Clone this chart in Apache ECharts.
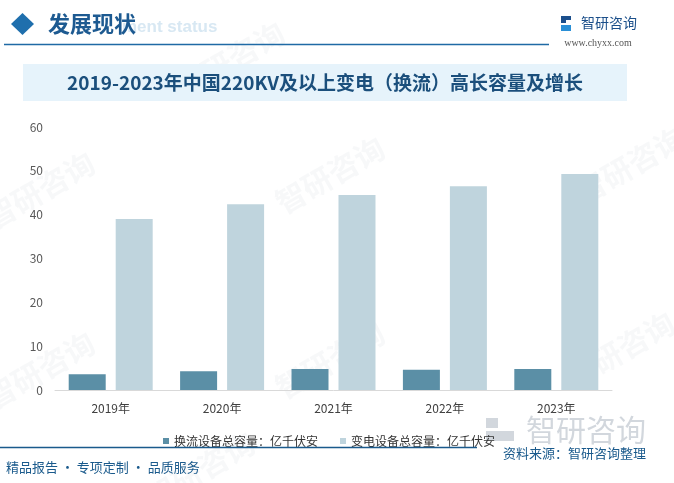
<!DOCTYPE html>
<html><head><meta charset="utf-8">
<script src="https://cdn.jsdelivr.net/npm/echarts@6/dist/echarts.min.js"></script>
<style>html,body{margin:0;padding:0;background:#fff}#c{width:674px;height:483px}</style>
</head><body><div id="c"></div>
<script>
const categories = ['2019年','2020年','2021年','2022年','2023年'];
const seriesNames = ['换流设备总容量：亿千伏安','变电设备总容量：亿千伏安'];
const converterValues = [3.6, 4.3, 4.8, 4.6, 4.8];
const substationValues = [39.0, 42.4, 44.5, 46.5, 49.3];
const yTicks = [0, 10, 20, 30, 40, 50, 60];

const chart = echarts.init(document.getElementById('c'), null, {renderer:'canvas'});
const cjk = '"Noto Sans CJK SC", "Noto Sans", sans-serif';

const wm = [];
[[40,190],[330,175],[630,165],[40,370],[330,360],[620,350],[200,470],[230,60]].forEach(p=>{
  wm.push({type:'text', x:p[0], y:p[1], rotation:Math.PI/6, z:0,
    style:{text:'智研咨询', font:'bold 30px '+cjk, fill:'rgba(200,206,214,0.15)', textAlign:'center', textVerticalAlign:'middle'}});
});

chart.setOption({
  animation:false,
  textStyle:{fontFamily:cjk},
  grid:{left:55, right:62, top:127, bottom:93},
  legend:{
    data:seriesNames, left:158, top:430, itemWidth:6, itemHeight:6, itemGap:22, icon:'rect',
    textStyle:{fontSize:12, color:'#333', fontFamily:cjk}
  },
  xAxis:{type:'category', data:categories,
    axisLine:{lineStyle:{color:'#d9d9d9', width:1}}, axisTick:{show:false},
    axisLabel:{color:'#404040', fontSize:12, margin:12, fontFamily:cjk}},
  yAxis:{type:'value', min:0, max:60, interval:10,
    axisLine:{show:false}, axisTick:{show:false}, splitLine:{show:false},
    axisLabel:{color:'#595959', fontSize:12, margin:12,
      formatter: v => yTicks.includes(v) ? String(v) : ''}},
  series:[
    {name:seriesNames[0], type:'bar', data:converterValues, barWidth:37, barGap:'27%', itemStyle:{color:'#5b8fa6'}, z:3},
    {name:seriesNames[1], type:'bar', data:substationValues, barWidth:37, itemStyle:{color:'#bfd4dd'}, z:3}
  ],
  graphic: wm.concat([
    {type:'text', x:122, y:27, z:1, style:{text:'ment status', font:'bold 17px "Liberation Sans", Arial, sans-serif', fill:'#d8e8f3', textVerticalAlign:'middle'}},
    {type:'polygon', z:5, shape:{points:[[22.5,13],[34,24],[22.5,35],[11,24]]}, style:{fill:'#1f6fad'}},
    {type:'text', x:48, y:24, z:5, style:{text:'发展现状', font:'bold 22px '+cjk, fill:'#1d5a91', textVerticalAlign:'middle'}},
    {type:'line', z:5, shape:{x1:4, y1:44.5, x2:549, y2:44.5}, style:{stroke:'#1f6aa5', lineWidth:1.5}},
    {type:'rect', z:5, shape:{x:561, y:16, width:5, height:7}, style:{fill:'#1c4f8c'}},
    {type:'rect', z:5, shape:{x:566, y:16, width:5, height:4}, style:{fill:'#1c4f8c'}},
    {type:'rect', z:5, shape:{x:561, y:25, width:10, height:6}, style:{fill:'#2a8fd6'}},
    {type:'text', x:609, y:23, z:5, style:{text:'智研咨询', font:'14px '+cjk, fill:'#1b4f8a', textAlign:'center', textVerticalAlign:'middle'}},
    {type:'text', x:598, y:43, z:5, style:{text:'www.chyxx.com', font:'10px "Liberation Serif", serif', fill:'#555', textAlign:'center', textVerticalAlign:'middle'}},
    {type:'rect', z:1, shape:{x:23, y:64, width:604, height:37}, style:{fill:'#e6f3fb'}},
    {type:'text', x:325, y:83, z:5, style:{text:'2019-2023年中国220KV及以上变电（换流）高长容量及增长', font:'bold 19px '+cjk, fill:'#1b4f7c', textAlign:'center', textVerticalAlign:'middle'}},
    {type:'rect', z:1, shape:{x:486, y:418, width:12, height:10}, style:{fill:'rgba(180,188,198,0.6)'}},
    {type:'rect', z:1, shape:{x:486, y:431, width:28, height:10}, style:{fill:'rgba(180,188,198,0.6)'}},
    {type:'text', x:586, y:430, z:1, style:{text:'智研咨询', font:'30px '+cjk, fill:'rgba(180,188,198,0.6)', textAlign:'center', textVerticalAlign:'middle'}},
    {type:'line', z:5, shape:{x1:0, y1:447.5, x2:477, y2:447.5}, style:{stroke:'#1a5a8c', lineWidth:1.5}},
    {type:'text', x:6, y:467, z:5, style:{text:'精品报告 · 专项定制 · 品质服务', font:'13px '+cjk, fill:'#1a5a8c', textVerticalAlign:'middle'}},
    {type:'text', x:503, y:453, z:5, style:{text:'资料来源：智研咨询整理', font:'13px '+cjk, fill:'#1a5a8c', textVerticalAlign:'middle'}}
  ])
});
</script></body></html>
